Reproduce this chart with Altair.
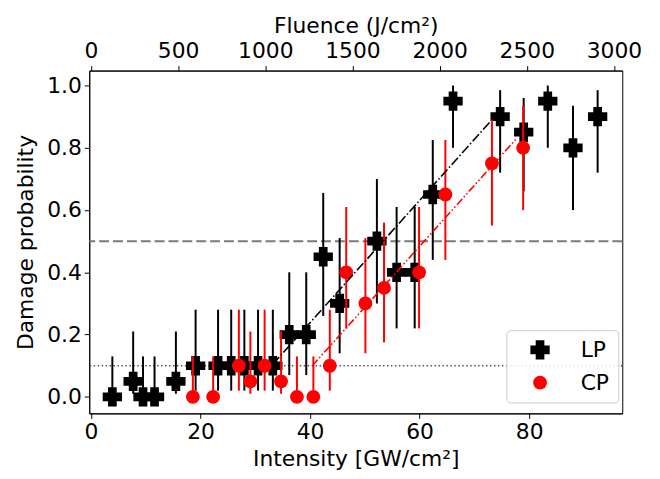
import altair as alt
import pandas as pd

# ---------------- data ----------------
LP_x = [3.9, 7.7, 9.5, 11.6, 15.5, 19.1, 23.2, 25.6, 28.0, 30.5, 33.2, 36.2, 39.3,
        42.4, 45.4, 52.2, 55.8, 59.1, 62.4, 66.1, 74.7, 79.0, 83.4, 88.0, 92.5]
LP_y = [0.0, 0.05, 0.0, 0.0, 0.05, 0.1, 0.1, 0.1, 0.1, 0.1, 0.1, 0.2, 0.2,
        0.45, 0.3, 0.5, 0.4, 0.4, 0.65, 0.95, 0.9, 0.85, 0.95, 0.8, 0.9]
LP_lo = [0.0, 0.01, 0.0, 0.0, 0.01, 0.02, 0.02, 0.02, 0.02, 0.02, 0.02, 0.07, 0.07,
         0.26, 0.14, 0.30, 0.22, 0.22, 0.44, 0.80, 0.72, 0.66, 0.80, 0.60, 0.72]
LP_hi = [0.13, 0.21, 0.13, 0.13, 0.21, 0.28, 0.28, 0.28, 0.28, 0.28, 0.28, 0.40, 0.40,
         0.655, 0.51, 0.70, 0.61, 0.61, 0.825, 1.0, 0.985, 0.96, 1.0, 0.935, 0.985]

CP_x = [18.6, 22.3, 27.0, 29.1, 31.7, 34.7, 37.6, 40.6, 43.6, 46.6, 50.1, 53.5,
        59.9, 64.7, 73.2, 78.9]
CP_y = [0.0, 0.0, 0.1, 0.05, 0.1, 0.05, 0.0, 0.0, 0.1, 0.4, 0.3, 0.35,
        0.4, 0.65, 0.75, 0.8]
CP_lo = [0.0, 0.0, 0.02, 0.01, 0.02, 0.01, 0.0, 0.0, 0.02, 0.22, 0.14, 0.175,
         0.22, 0.44, 0.55, 0.60]
CP_hi = [0.13, 0.13, 0.28, 0.21, 0.28, 0.21, 0.13, 0.13, 0.28, 0.61, 0.51, 0.56,
         0.61, 0.825, 0.89, 0.935]

LP_fit_x = [33.2, 73.0]
LP_fit_y = [0.105, 0.886]
CP_fit_x = [40.4, 77.8]
CP_fit_y = [0.10, 0.832]

levels_dashed = [0.5]
levels_dotted = [0.1]

series_names = ["LP", "CP"]
series_colors = ["black", "red"]

x_ticks = [0, 20, 40, 60, 80]
y_ticks = [0.0, 0.2, 0.4, 0.6, 0.8, 1.0]
fluence_ticks = [0, 500, 1000, 1500, 2000, 2500, 3000]
FLUENCE_PER_INTENSITY = 31.42
X_DOMAIN = [-0.32, 97.0]
Y_DOMAIN = [-0.053, 1.048]

# ---------------- tables ----------------
lp = pd.DataFrame({"x": LP_x, "y": LP_y, "lo": LP_lo, "hi": LP_hi, "series": "LP"})
cp = pd.DataFrame({"x": CP_x, "y": CP_y, "lo": CP_lo, "hi": CP_hi, "series": "CP"})
lp_fit = pd.DataFrame({"x": LP_fit_x, "y": LP_fit_y})
cp_fit = pd.DataFrame({"x": CP_fit_x, "y": CP_fit_y})
dashed = pd.DataFrame({"level": levels_dashed})
dotted = pd.DataFrame({"level": levels_dotted})
flu = pd.DataFrame({"fluence": [v * FLUENCE_PER_INTENSITY for v in LP_x], "y": LP_y})

FONT = "DejaVu Sans"
CROSS = ("M-0.45,-1L0.45,-1L0.45,-0.45L1,-0.45L1,0.45L0.45,0.45L0.45,1L-0.45,1"
         "L-0.45,0.45L-1,0.45L-1,-0.45L-0.45,-0.45Z")

xenc = alt.X("x:Q", scale=alt.Scale(domain=X_DOMAIN, nice=False, zero=False),
             axis=alt.Axis(values=x_ticks, title="Intensity [GW/cm²]", titlePadding=7))
yenc = alt.Y("y:Q", scale=alt.Scale(domain=Y_DOMAIN, nice=False, zero=False),
             axis=alt.Axis(values=y_ticks, format=".1f", title="Damage probability",
                           titlePadding=9))

legend = alt.Legend(orient="none", legendX=421, legendY=262, title=None,
                    padding=9, rowPadding=11, symbolOffset=14, labelOffset=30,
                    labelFontSize=22, labelFont=FONT, strokeColor="#cccccc",
                    fillColor="rgba(255,255,255,0.85)", cornerRadius=4,
                    symbolStrokeWidth=0)

color = alt.Color("series:N", scale=alt.Scale(domain=series_names, range=series_colors),
                  legend=legend)
shape = alt.Shape("series:N", scale=alt.Scale(domain=series_names, range=[CROSS, "circle"]),
                  legend=legend)
size = alt.Size("series:N", scale=alt.Scale(domain=series_names, range=[380, 195]),
                legend=legend)

hline_dash = alt.Chart(dashed).mark_rule(color="#7a7a7a", strokeWidth=2,
                                         strokeDash=[10, 4]).encode(y=alt.Y("level:Q"))
hline_dot = alt.Chart(dotted).mark_rule(color="#555555", strokeWidth=1.5,
                                        strokeDash=[1.5, 2.5]).encode(y=alt.Y("level:Q"))

lp_err = alt.Chart(lp).mark_rule(color="black", strokeWidth=2).encode(
    x=xenc, y=alt.Y("lo:Q"), y2="hi:Q")
lp_pts = alt.Chart(lp).mark_point(filled=True, opacity=1, strokeWidth=0).encode(
    x=xenc, y=yenc, color=color, shape=shape, size=size)
cp_err = alt.Chart(cp).mark_rule(color="red", strokeWidth=2).encode(
    x=xenc, y=alt.Y("lo:Q"), y2="hi:Q")
cp_pts = alt.Chart(cp).mark_point(filled=True, opacity=1, strokeWidth=0).encode(
    x=xenc, y=yenc, color=color, shape=shape, size=size)

lp_line = alt.Chart(lp_fit).mark_line(color="black", strokeWidth=1.6,
                                      strokeDash=[9.6, 2.4, 1.5, 2.4]).encode(x=xenc, y=yenc)
cp_line = alt.Chart(cp_fit).mark_line(color="red", strokeWidth=1.6,
                                      strokeDash=[8, 2.4, 1.5, 2.4, 1.5, 2.4]).encode(x=xenc, y=yenc)

main = alt.layer(hline_dash, hline_dot, lp_err, lp_pts, cp_err, cp_pts, lp_line, cp_line)

top = alt.Chart(flu).mark_point(opacity=0).encode(
    x=alt.X("fluence:Q",
            scale=alt.Scale(domain=[X_DOMAIN[0] * FLUENCE_PER_INTENSITY,
                                    X_DOMAIN[1] * FLUENCE_PER_INTENSITY],
                            nice=False, zero=False),
            axis=alt.Axis(orient="top", values=fluence_ticks, format="d",
                          title="Fluence (J/cm²)", titlePadding=2)),
    y=yenc)

chart = alt.layer(main, top).resolve_scale(x="independent").properties(
    width=538, height=346,
    autosize=alt.AutoSizeParams(type="none"),
    padding={"left": 82, "top": 61, "right": 30, "bottom": 55},
).configure_view(stroke="black", strokeWidth=1).configure_axis(
    labelFont=FONT, titleFont=FONT, labelFontSize=22, titleFontSize=22,
    titleFontWeight="normal", labelColor="black", titleColor="black",
    tickColor="black", domainColor="black", tickSize=5, labelPadding=3, grid=False
)

chart.save("out.html", embed_options={"renderer": "svg", "actions": False})
